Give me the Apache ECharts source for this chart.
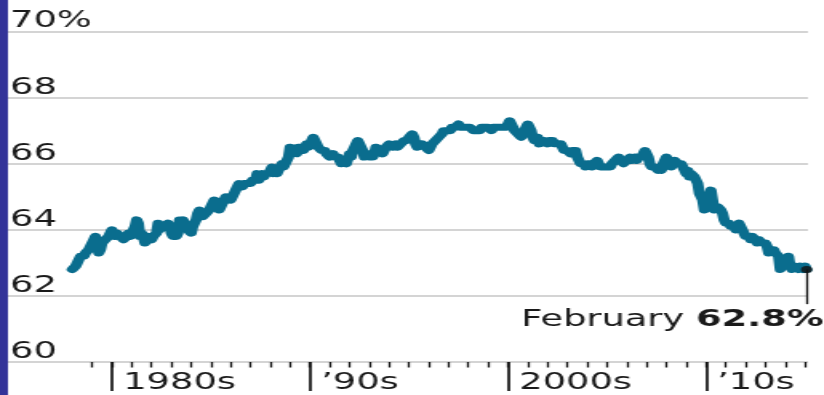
<!DOCTYPE html>
<html>
<head>
<meta charset="utf-8">
<script src="https://cdn.jsdelivr.net/npm/echarts@6/dist/echarts.min.js"></script>
<style>
  html, body { margin: 0; padding: 0; background: #fff; overflow: hidden; width: 824px; height: 395px; }
  /* the chart is laid out on a narrower canvas and widened to the full page */
  #chart { width: 515px; height: 395px; transform: scaleX(1.6); transform-origin: 0 0; }
</style>
</head>
<body>
<div id="chart"></div>
<script>
// Labor force participation rate, monthly, seasonally adjusted (%)
const startYear = 1978;
const lfpr1970s = [
  62.8, 62.8, 62.9, 63.0, 63.1, 63.2, 63.2, 63.2, 63.3, 63.3, 63.4, 63.5,
  63.6, 63.7, 63.8, 63.5, 63.3, 63.4, 63.6, 63.6, 63.7, 63.7, 63.8, 63.9
];
const lfpr1980s = [
  64.0, 63.9, 63.8, 63.9, 63.9, 63.8, 63.8, 63.7, 63.7, 63.8, 63.9, 63.8,
  63.9, 64.0, 64.1, 64.3, 64.2, 63.8, 63.9, 63.8, 63.6, 63.7, 63.8, 63.8,
  63.7, 63.8, 63.8, 63.9, 64.2, 64.0, 64.1, 64.1, 64.1, 64.1, 64.2, 64.1,
  63.9, 63.8, 63.8, 63.8, 63.9, 64.3, 64.2, 64.3, 64.2, 64.1, 64.0, 64.0,
  63.9, 64.1, 64.1, 64.3, 64.5, 64.6, 64.5, 64.4, 64.4, 64.5, 64.5, 64.6,
  64.7, 64.7, 64.9, 64.8, 64.8, 64.6, 64.7, 64.7, 64.9, 65.0, 64.9, 65.0,
  64.9, 65.0, 65.1, 65.2, 65.3, 65.4, 65.4, 65.3, 65.4, 65.4, 65.4, 65.4,
  65.4, 65.5, 65.5, 65.5, 65.7, 65.5, 65.6, 65.7, 65.6, 65.7, 65.7, 65.7,
  65.8, 65.9, 65.7, 65.8, 65.7, 65.8, 65.9, 66.0, 65.9, 66.0, 66.1, 66.2,
  66.5, 66.3, 66.3, 66.4, 66.3, 66.5, 66.5, 66.5, 66.4, 66.5, 66.6, 66.5
];
const lfpr1990s = [
  66.6, 66.7, 66.8, 66.7, 66.6, 66.5, 66.5, 66.4, 66.4, 66.4, 66.3, 66.3,
  66.2, 66.2, 66.3, 66.2, 66.2, 66.2, 66.1, 66.0, 66.1, 66.1, 66.0, 66.0,
  66.3, 66.2, 66.4, 66.5, 66.6, 66.7, 66.6, 66.5, 66.4, 66.2, 66.2, 66.3,
  66.2, 66.2, 66.2, 66.3, 66.5, 66.5, 66.4, 66.4, 66.3, 66.4, 66.5, 66.5,
  66.6, 66.6, 66.5, 66.5, 66.6, 66.5, 66.5, 66.6, 66.6, 66.7, 66.7, 66.7,
  66.8, 66.8, 66.9, 66.8, 66.6, 66.5, 66.6, 66.6, 66.6, 66.6, 66.5, 66.5,
  66.4, 66.5, 66.6, 66.6, 66.7, 66.7, 66.8, 66.8, 66.9, 67.0, 67.0, 67.0,
  67.0, 67.0, 67.1, 67.1, 67.1, 67.1, 67.2, 67.1, 67.1, 67.1, 67.1, 67.1,
  67.1, 67.1, 67.1, 67.0, 67.0, 67.0, 67.0, 67.0, 67.1, 67.1, 67.1, 67.1,
  67.1, 67.1, 67.0, 67.1, 67.1, 67.1, 67.1, 67.1, 67.1, 67.1, 67.1, 67.1
];
const lfpr2000s = [
  67.2, 67.3, 67.2, 67.2, 67.0, 67.0, 66.9, 66.9, 66.8, 66.9, 67.0, 67.1,
  67.2, 67.2, 67.0, 66.8, 66.7, 66.7, 66.8, 66.6, 66.7, 66.7, 66.7, 66.7,
  66.6, 66.7, 66.7, 66.7, 66.6, 66.6, 66.6, 66.6, 66.6, 66.5, 66.4, 66.4,
  66.4, 66.4, 66.3, 66.4, 66.4, 66.4, 66.2, 66.1, 66.0, 66.0, 66.0, 65.9,
  66.0, 66.0, 66.0, 65.9, 66.0, 66.0, 66.1, 66.0, 65.9, 65.9, 65.9, 65.9,
  65.9, 65.9, 65.9, 66.0, 66.0, 66.1, 66.1, 66.2, 66.1, 66.1, 66.0, 66.0,
  66.1, 66.1, 66.2, 66.1, 66.1, 66.2, 66.1, 66.2, 66.2, 66.2, 66.3, 66.4,
  66.4, 66.2, 66.0, 65.9, 65.9, 65.9, 65.9, 65.8, 65.9, 65.8, 66.0, 66.0,
  66.2, 66.1, 66.0, 65.9, 66.0, 66.1, 66.1, 66.0, 66.0, 66.0, 65.9, 65.8,
  65.7, 65.8, 65.6, 65.7, 65.7, 65.6, 65.5, 65.4, 65.1, 65.0, 64.9, 64.6
];
const lfpr2010s = [
  64.7, 64.9, 65.0, 65.2, 64.9, 64.6, 64.6, 64.7, 64.7, 64.6, 64.5, 64.3,
  64.2, 64.2, 64.2, 64.1, 64.1, 64.1, 64.0, 64.1, 64.2, 64.1, 64.0, 64.0,
  63.8, 63.8, 63.8, 63.7, 63.8, 63.8, 63.7, 63.6, 63.7, 63.7, 63.6, 63.6,
  63.6, 63.5, 63.3, 63.4, 63.4, 63.4, 63.3, 63.3, 63.2, 62.8, 63.0, 62.9,
  62.9, 63.0, 63.2, 62.9, 62.8, 62.8, 62.9, 62.9, 62.8, 62.9, 62.9, 62.8,
  62.9, 62.8
];

const monthNames = ['January', 'February', 'March', 'April', 'May', 'June',
  'July', 'August', 'September', 'October', 'November', 'December'];

// axis ticks and labels
const yTicks = [60, 62, 64, 66, 68, 70];
const yTickLabels = ['60', '62', '64', '66', '68', '70%'];
const decadeTicks = [1980, 1990, 2000, 2010];
const decadeLabels = ['1980s', '\u201990s', '2000s', '\u201910s'];
const firstYearTick = 1979;
const lastYearTick = 2015;

const values = [].concat(lfpr1970s, lfpr1980s, lfpr1990s, lfpr2000s, lfpr2010s);
const points = values.map((v, i) => [startYear + i / 12, v]);
const last = points[points.length - 1];
const lastMonth = monthNames[(values.length - 1) % 12];

const yearTicks = [];
for (let y = firstYearTick; y <= lastYearTick; y++) yearTicks.push(y);

const FONT = 'DejaVu Sans';
const INK = '#1a1a1a';
const X_MIN = 1974.75, X_MAX = 2015.15;
const STEM_BOTTOM = 61.75;

const chart = echarts.init(document.getElementById('chart'), null, { renderer: 'canvas' });
chart.setOption({
  animation: false,
  backgroundColor: '#fff',
  textStyle: { fontFamily: FONT },
  graphic: [{
    type: 'rect', left: 0, top: 0, z: 100,
    shape: { width: 5, height: 395 },
    style: { fill: '#333399' }
  }],
  grid: { left: 5, right: 10, top: 31.5, bottom: 32.3, containLabel: false },
  xAxis: [
    {
      type: 'value', position: 'bottom', min: X_MIN, max: X_MAX,
      axisLine: { show: false }, splitLine: { show: false },
      axisTick: { show: true, length: 5.5, customValues: yearTicks, lineStyle: { color: '#111', width: 1.3 } },
      axisLabel: { show: false }
    },
    {
      type: 'value', position: 'bottom', min: X_MIN, max: X_MAX,
      axisLine: { show: false }, splitLine: { show: false },
      axisTick: { show: true, length: 29, customValues: decadeTicks, lineStyle: { color: '#111', width: 1.7 } },
      axisLabel: {
        show: true, customValues: decadeTicks,
        formatter: v => decadeLabels[decadeTicks.indexOf(Math.round(v))],
        align: 'left', padding: [0, 0, 0, 7], margin: 10,
        fontSize: 23, fontFamily: FONT, color: INK
      }
    }
  ],
  yAxis: {
    type: 'value', min: 60, max: 70, interval: 2,
    axisLine: { show: false }, axisTick: { show: false },
    splitLine: { show: true, lineStyle: { color: '#c6c6c6', width: 1.5 } },
    axisLabel: {
      inside: true, margin: 1.3, align: 'left', verticalAlign: 'bottom',
      lineHeight: 20,
      fontSize: 23, fontFamily: FONT, color: INK,
      formatter: v => yTickLabels[yTicks.indexOf(v)]
    }
  },
  series: [
    {
      name: 'Participation rate',
      type: 'line', xAxisIndex: 0, data: points,
      showSymbol: false, z: 3,
      lineStyle: { color: '#0a6d8e', width: 7, cap: 'round', join: 'round' }
    },
    {
      name: 'Latest',
      type: 'scatter', xAxisIndex: 0, data: [last],
      symbolSize: 7, z: 6,
      itemStyle: { color: '#111' },
      markLine: {
        silent: true, symbol: ['none', 'none'],
        lineStyle: { color: '#111', width: 1.3, type: 'solid' },
        label: { show: false },
        data: [[{ coord: [last[0], last[1]] }, { coord: [last[0], STEM_BOTTOM] }]]
      },
      markPoint: {
        silent: true, symbol: 'circle', symbolSize: 0,
        data: [{ coord: [last[0], STEM_BOTTOM] }],
        label: {
          show: true, position: 'inside', align: 'right', verticalAlign: 'top',
          offset: [10.6, 4],
          formatter: () => '{m|' + lastMonth + ' }{v|' + last[1].toFixed(1) + '%}',
          rich: {
            m: { fontSize: 23, fontFamily: FONT, color: INK },
            v: { fontSize: 23, fontFamily: FONT, color: INK, fontWeight: 'bold' }
          }
        }
      }
    }
  ]
});
</script>
</body>
</html>
